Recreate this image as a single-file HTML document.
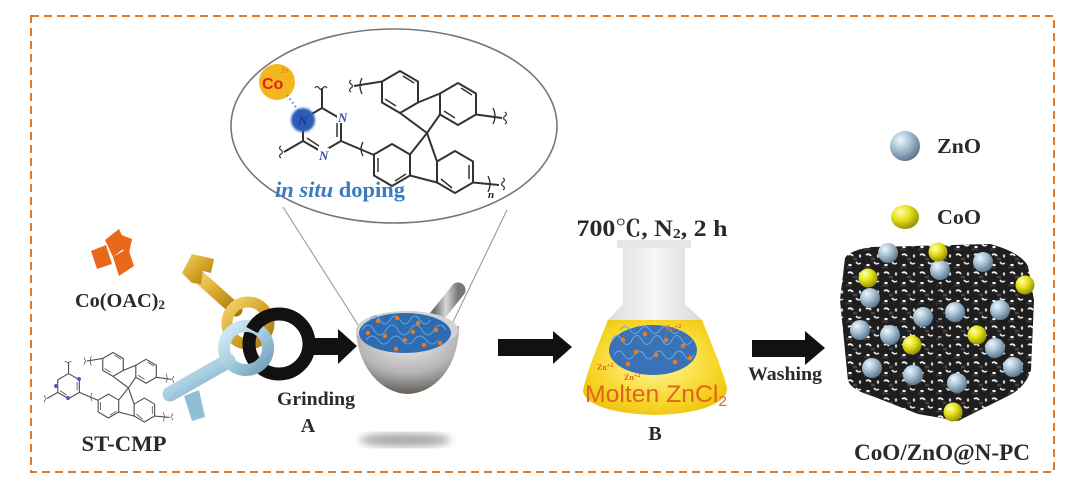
<!DOCTYPE html>
<html>
<head>
<meta charset="utf-8">
<style>
html,body{margin:0;padding:0;background:#fff;}
svg{display:block;}
</style>
</head>
<body>
<svg width="1081" height="489" viewBox="0 0 1081 489" xmlns="http://www.w3.org/2000/svg">
<defs>
  <radialGradient id="gBlue" cx="0.35" cy="0.3" r="0.75">
    <stop offset="0" stop-color="#eef6fc"/>
    <stop offset="0.45" stop-color="#a9c2d4"/>
    <stop offset="1" stop-color="#56728a"/>
  </radialGradient>
  <radialGradient id="gYel" cx="0.35" cy="0.3" r="0.75">
    <stop offset="0" stop-color="#ffffb0"/>
    <stop offset="0.45" stop-color="#e6e21a"/>
    <stop offset="1" stop-color="#8e8a00"/>
  </radialGradient>
  <linearGradient id="gGold" x1="0" y1="0" x2="1" y2="1">
    <stop offset="0" stop-color="#f3d36a"/>
    <stop offset="0.5" stop-color="#d6a52a"/>
    <stop offset="1" stop-color="#a87a12"/>
  </linearGradient>
  <linearGradient id="gKeyB" x1="0" y1="0" x2="1" y2="1">
    <stop offset="0" stop-color="#d4ecf6"/>
    <stop offset="0.5" stop-color="#a6cde0"/>
    <stop offset="1" stop-color="#6f9cb5"/>
  </linearGradient>
  <radialGradient id="gBowl" cx="0.5" cy="0.2" r="0.9">
    <stop offset="0" stop-color="#f0f0f0"/>
    <stop offset="0.55" stop-color="#b4b4b4"/>
    <stop offset="1" stop-color="#4a4038"/>
  </radialGradient>
  <linearGradient id="gPestle" x1="0" y1="0" x2="1" y2="0">
    <stop offset="0" stop-color="#6a6a6a"/>
    <stop offset="0.5" stop-color="#d8d8d8"/>
    <stop offset="1" stop-color="#777"/>
  </linearGradient>
  <radialGradient id="gLiq" cx="0.5" cy="0.45" r="0.7">
    <stop offset="0" stop-color="#fff7a0"/>
    <stop offset="0.6" stop-color="#f7d72a"/>
    <stop offset="1" stop-color="#e9b800"/>
  </radialGradient>
  <linearGradient id="gGlass" x1="0" y1="0" x2="1" y2="0">
    <stop offset="0" stop-color="#dcdcdc"/>
    <stop offset="0.5" stop-color="#f6f6f6"/>
    <stop offset="1" stop-color="#d8d8d8"/>
  </linearGradient>
  <filter id="blur4"><feGaussianBlur stdDeviation="4"/></filter>
  <filter id="blur1"><feGaussianBlur stdDeviation="1"/></filter>
  <pattern id="por" width="18" height="18" patternUnits="userSpaceOnUse">
    <rect width="18" height="18" fill="#1e1e1e"/>
    <path d="M2 3 q3 -2 5 1" stroke="#f2f2f2" stroke-width="1.8" fill="none"/>
    <path d="M10 10 q2 3 5 1" stroke="#e0e0e0" stroke-width="1.6" fill="none"/>
    <ellipse cx="4" cy="13" rx="1.8" ry="1.1" fill="#f4f4f4"/>
    <ellipse cx="14" cy="4" rx="1.2" ry="1.8" fill="#cfcfcf"/>
    <path d="M7 7 h4" stroke="#444" stroke-width="2.5"/>
    <path d="M0 16 q3 -2 6 0" stroke="#3a3a3a" stroke-width="2" fill="none"/>
  </pattern>
  <g id="mol" fill="none" stroke="#333" stroke-width="2" stroke-linejoin="round">
    <polygon points="322,108 341,119 341,141 322,152 303,141 303,119"/>
    <line x1="337" y1="123" x2="337" y2="137" stroke-width="1.5"/>
    <line x1="307" y1="138" x2="319" y2="146" stroke-width="1.5"/>
    <line x1="322" y1="108" x2="322" y2="88"/>
    <path d="M315 88 q2 -3 4 0 q2 3 4 0 q2 -3 4 0" stroke-width="1.2"/>
    <line x1="303" y1="141" x2="284" y2="152"/>
    <path d="M281 146 q-3 2 0 4 q3 2 0 4 q-3 2 0 4" stroke-width="1.2"/>
    <line x1="341" y1="141" x2="374" y2="155"/>
    <path d="M363 142 q-4 7 0 14" stroke-width="1.3"/>
    <polygon points="400,71 418,81.5 418,102.5 400,113 382,102.5 382,81.5"/>
    <line x1="403" y1="76" x2="414" y2="83" stroke-width="1.5"/>
    <line x1="385" y1="99" x2="396" y2="106" stroke-width="1.5"/>
    <polygon points="458,83 476,93.5 476,114.5 458,125 440,114.5 440,93.5"/>
    <line x1="461" y1="88" x2="472" y2="95" stroke-width="1.5"/>
    <line x1="444" y1="111" x2="455" y2="118" stroke-width="1.5"/>
    <line x1="418" y1="102.5" x2="440" y2="93.5"/>
    <line x1="400" y1="113" x2="427" y2="133"/>
    <line x1="440" y1="114.5" x2="427" y2="133"/>
    <line x1="382" y1="81.5" x2="354" y2="86"/>
    <path d="M362 78 q-4 8 0 16" stroke-width="1.3"/>
    <path d="M351 80 q-3 2 0 4 q3 2 0 4 q-3 2 0 4" stroke-width="1.2"/>
    <line x1="476" y1="114.5" x2="502" y2="118"/>
    <path d="M493 108 q4 8 0 16" stroke-width="1.3"/>
    <path d="M505 112 q3 2 0 4 q-3 2 0 4 q3 2 0 4" stroke-width="1.2"/>
    <polygon points="392,144 410,154.5 410,175.5 392,186 374,175.5 374,154.5"/>
    <line x1="378" y1="158" x2="378" y2="172" stroke-width="1.5"/>
    <line x1="395" y1="181" x2="406" y2="174" stroke-width="1.5"/>
    <polygon points="455,151 473,161.5 473,182.5 455,193 437,182.5 437,161.5"/>
    <line x1="469" y1="165" x2="469" y2="179" stroke-width="1.5"/>
    <line x1="441" y1="179" x2="452" y2="188" stroke-width="1.5"/>
    <line x1="410" y1="175.5" x2="437" y2="182.5"/>
    <line x1="410" y1="154.5" x2="427" y2="133"/>
    <line x1="437" y1="161.5" x2="427" y2="133"/>
    <line x1="473" y1="182.5" x2="499" y2="185"/>
    <path d="M488 176 q4 8 0 16" stroke-width="1.3"/>
    <path d="M503 178 q3 2 0 4 q-3 2 0 4 q3 2 0 4" stroke-width="1.2"/>
  </g>
</defs>

<rect width="1081" height="489" fill="#fff"/>

<rect x="31" y="16" width="1023" height="456" fill="none" stroke="#e07a2c" stroke-width="2" stroke-dasharray="8 5"/>

<ellipse cx="394" cy="126" rx="163" ry="97" fill="none" stroke="#777" stroke-width="1.6"/>
<line x1="283" y1="207" x2="362" y2="331" stroke="#9a9a9a" stroke-width="1.1"/>
<line x1="507" y1="210" x2="452" y2="324" stroke="#9a9a9a" stroke-width="1.1"/>

<use href="#mol"/>
<circle cx="277" cy="82" r="18" fill="#f2b71c"/>
<text x="262" y="89" font-family="Liberation Sans, sans-serif" font-weight="bold" font-size="16" fill="#e0201a">Co</text>
<text x="281" y="73" font-family="Liberation Sans, sans-serif" font-size="7" fill="#e86a1e">2+</text>
<line x1="287" y1="95" x2="300" y2="113" stroke="#4a9ae0" stroke-width="2.2" stroke-dasharray="1.5 3"/>
<circle cx="303" cy="120" r="12" fill="#2a5cb8" filter="url(#blur1)"/>
<text x="298" y="125" font-family="Liberation Serif, serif" font-style="italic" font-weight="bold" font-size="13" fill="#1a3a90">N</text>
<rect x="337" y="110" width="11" height="13" fill="#fff"/>
<text x="338" y="122" font-family="Liberation Serif, serif" font-style="italic" font-weight="bold" font-size="13" fill="#3a4ab8">N</text>
<rect x="318" y="148" width="11" height="13" fill="#fff"/>
<text x="319" y="160" font-family="Liberation Serif, serif" font-style="italic" font-weight="bold" font-size="13" fill="#3a4ab8">N</text>
<text x="488" y="198" font-family="Liberation Serif, serif" font-style="italic" font-weight="bold" font-size="11" fill="#222">n</text>
<text x="275" y="197" font-family="Liberation Serif, serif" font-weight="bold" font-size="22" fill="#3b7bbf" textLength="130" lengthAdjust="spacingAndGlyphs"><tspan font-style="italic">in situ</tspan> doping</text>

<g fill="#e8691c">
  <polygon points="105,240 119,229 127,246 113,257"/>
  <polygon points="91,251 106,245 112,264 97,269"/>
  <polygon points="113,257 128,248 134,266 119,276"/>
  <polygon points="119,234 132,239 129,253 120,248"/>
</g>
<text x="120" y="307" text-anchor="middle" font-family="Liberation Serif, serif" font-weight="bold" font-size="20" fill="#2a2a2a" textLength="90" lengthAdjust="spacingAndGlyphs">Co(OAC)<tspan font-size="13" dy="2">2</tspan></text>

<use href="#mol" transform="translate(-115 312) scale(0.57)" opacity="0.85" stroke-width="3"/>
<circle cx="56" cy="386" r="2" fill="#4a5ad0"/>
<circle cx="79" cy="379" r="2" fill="#4a5ad0"/>
<circle cx="68" cy="398" r="2" fill="#4a5ad0"/>
<text x="124" y="451" text-anchor="middle" font-family="Liberation Serif, serif" font-weight="bold" font-size="22" fill="#2a2a2a" textLength="85" lengthAdjust="spacingAndGlyphs">ST-CMP</text>

<line x1="198" y1="276" x2="236" y2="310" stroke="url(#gGold)" stroke-width="13" stroke-linecap="round"/>
<polygon points="182,273 192,254 214,259 211,273 203,271 201,284 192,283" fill="url(#gGold)"/>
<circle cx="248" cy="323" r="21" fill="none" stroke="url(#gGold)" stroke-width="11"/>

<circle cx="279" cy="344" r="30" fill="none" stroke="#111" stroke-width="13"/>
<rect x="308" y="338" width="34" height="17" fill="#111"/>
<polygon points="338,329 357,346 338,364" fill="#111"/>

<line x1="228" y1="361" x2="170" y2="394" stroke="url(#gKeyB)" stroke-width="15" stroke-linecap="round"/>
<polygon points="184,396 199,390 205,417 192,421" fill="#8fbfd6"/>
<circle cx="246" cy="348" r="22" fill="none" stroke="url(#gKeyB)" stroke-width="12"/>
<path d="M268 316 A30 30 0 0 0 252 330" fill="none" stroke="#111" stroke-width="13"/>

<text x="316" y="405" text-anchor="middle" font-family="Liberation Serif, serif" font-weight="bold" font-size="19" fill="#2a2a2a" textLength="78" lengthAdjust="spacingAndGlyphs">Grinding</text>
<text x="308" y="432" text-anchor="middle" font-family="Liberation Serif, serif" font-weight="bold" font-size="20" fill="#2a2a2a">A</text>

<ellipse cx="405" cy="440" rx="46" ry="7" fill="#aaa" filter="url(#blur4)"/>
<line x1="434" y1="320" x2="458" y2="290" stroke="url(#gPestle)" stroke-width="15" stroke-linecap="round"/>
<path d="M356,329 C357,366 380,393 408,394 C437,393 459,364 459,326 Z" fill="url(#gBowl)"/>
<ellipse cx="407" cy="330" rx="51" ry="19" fill="#d2d2d2"/>
<ellipse cx="405" cy="333" rx="46" ry="20" fill="#2f6bb0"/>
<g fill="none" stroke="#5fa6dc" stroke-width="1">
  <path d="M362 330 q6 -10 12 0 q6 10 12 0 q6 -10 12 0 q6 10 12 0 q6 -10 12 0 q6 10 12 0 q6 -10 12 0"/>
  <path d="M366 340 q6 -8 12 0 q6 8 12 0 q6 -8 12 0 q6 8 12 0 q6 -8 12 0 q6 8 12 0"/>
  <path d="M370 320 q5 -8 10 0 q5 8 10 0 q5 -8 10 0 q5 8 10 0 q5 -8 10 0 q5 8 10 0"/>
</g>
<g fill="#f07820">
  <circle cx="378" cy="321" r="2.2"/><circle cx="397" cy="318" r="2.2"/><circle cx="418" cy="323" r="2.2"/>
  <circle cx="436" cy="330" r="2.2"/><circle cx="385" cy="336" r="2.2"/><circle cx="405" cy="340" r="2.2"/>
  <circle cx="424" cy="345" r="2.2"/><circle cx="440" cy="343" r="2.2"/><circle cx="368" cy="333" r="2.2"/>
  <circle cx="396" cy="349" r="2.2"/><circle cx="413" cy="332" r="2.2"/>
</g>

<rect x="498" y="339" width="58" height="17" fill="#111"/>
<polygon points="553,331 572,347 553,364" fill="#111"/>

<text x="652" y="236" text-anchor="middle" font-family="Liberation Serif, 'Noto Serif CJK SC', serif" font-weight="bold" font-size="23" fill="#2a2a2a" textLength="151" lengthAdjust="spacingAndGlyphs">700℃, N<tspan font-size="14" dy="2">2</tspan><tspan dy="-2">,  2 h</tspan></text>
<path d="M623,247 L623,304 L606,322 L704,322 L685,304 L685,247 Z" fill="url(#gGlass)"/>
<rect x="617" y="240" width="74" height="8" fill="#e6e6e6"/>
<path d="M608,320 L702,320 C712,345 722,368 727,388 C728,403 700,414 655,415 C612,414 583,404 583,390 C588,368 598,345 608,320 Z" fill="url(#gLiq)"/>
<ellipse cx="653" cy="350" rx="44" ry="25" fill="#3a72b8"/>
<g fill="none" stroke="#6aa8de" stroke-width="1">
  <path d="M612 340 q5 -9 10 0 q5 9 10 0 q5 -9 10 0 q5 9 10 0 q5 -9 10 0 q5 9 10 0 q5 -9 10 0 q5 9 10 0"/>
  <path d="M614 355 q5 -8 10 0 q5 8 10 0 q5 -8 10 0 q5 8 10 0 q5 -8 10 0 q5 8 10 0 q5 -8 10 0 q5 8 10 0"/>
  <path d="M620 330 q5 -7 10 0 q5 7 10 0 q5 -7 10 0 q5 7 10 0 q5 -7 10 0 q5 7 10 0"/>
</g>
<g fill="#f07820">
  <circle cx="623" cy="340" r="2.3"/><circle cx="645" cy="334" r="2.3"/><circle cx="666" cy="340" r="2.3"/>
  <circle cx="683" cy="346" r="2.3"/><circle cx="636" cy="352" r="2.3"/><circle cx="656" cy="355" r="2.3"/>
  <circle cx="675" cy="362" r="2.3"/><circle cx="690" cy="358" r="2.3"/><circle cx="628" cy="364" r="2.3"/>
</g>
<g font-family="Liberation Serif, serif" font-weight="bold" font-size="8" fill="#e0641e">
  <text x="665" y="331">Zn<tspan font-size="6" dy="-3">+2</tspan></text>
  <text x="597" y="370">Zn<tspan font-size="6" dy="-3">+2</tspan></text>
  <text x="624" y="380">Zn<tspan font-size="6" dy="-3">+2</tspan></text>
</g>
<text x="656" y="402" text-anchor="middle" font-family="Liberation Sans, sans-serif" font-size="24" fill="#e0641e" textLength="142" lengthAdjust="spacingAndGlyphs">Molten ZnCl<tspan font-size="15" dy="4">2</tspan></text>
<text x="655" y="440" text-anchor="middle" font-family="Liberation Serif, serif" font-weight="bold" font-size="20" fill="#2a2a2a">B</text>

<rect x="752" y="340" width="56" height="17" fill="#111"/>
<polygon points="805,331 825,348 805,365" fill="#111"/>
<text x="785" y="380" text-anchor="middle" font-family="Liberation Serif, serif" font-weight="bold" font-size="19" fill="#2a2a2a" textLength="74" lengthAdjust="spacingAndGlyphs">Washing</text>

<circle cx="905" cy="146" r="15" fill="url(#gBlue)"/>
<text x="937" y="153" font-family="Liberation Serif, serif" font-weight="bold" font-size="21" fill="#2a2a2a" textLength="44" lengthAdjust="spacingAndGlyphs">ZnO</text>
<ellipse cx="905" cy="217" rx="14" ry="12" fill="url(#gYel)"/>
<text x="937" y="224" font-family="Liberation Serif, serif" font-weight="bold" font-size="21" fill="#2a2a2a" textLength="44" lengthAdjust="spacingAndGlyphs">CoO</text>

<path d="M845,258 Q850,250 872,247 L990,244 Q1020,252 1028,266 L1034,300 L1031,370 Q1025,388 1008,396 L958,421 L918,414 L872,396 Q852,390 848,381 L840,300 Z" fill="url(#por)"/>
<path d="M938,262 L940,330 L948,420" fill="none" stroke="#1a1a1a" stroke-width="3" opacity="0.5"/>
<g fill="url(#gBlue)">
  <circle cx="888" cy="253" r="10"/><circle cx="940" cy="270" r="10"/><circle cx="983" cy="262" r="10"/>
  <circle cx="870" cy="298" r="10"/><circle cx="923" cy="317" r="10"/><circle cx="955" cy="312" r="10"/>
  <circle cx="1000" cy="310" r="10"/><circle cx="860" cy="330" r="10"/><circle cx="890" cy="335" r="10"/>
  <circle cx="995" cy="348" r="10"/><circle cx="1013" cy="367" r="10"/><circle cx="872" cy="368" r="10"/>
  <circle cx="913" cy="375" r="10"/><circle cx="957" cy="383" r="10"/>
</g>
<g fill="url(#gYel)">
  <circle cx="938" cy="252" r="9.5"/><circle cx="868" cy="278" r="9.5"/><circle cx="1025" cy="285" r="9.5"/>
  <circle cx="912" cy="345" r="9.5"/><circle cx="977" cy="335" r="9.5"/><circle cx="953" cy="412" r="9.5"/>
</g>
<text x="942" y="460" text-anchor="middle" font-family="Liberation Serif, serif" font-weight="bold" font-size="23" fill="#2a2a2a" textLength="176" lengthAdjust="spacingAndGlyphs">CoO/ZnO@N-PC</text>
</svg>
</body>
</html>
